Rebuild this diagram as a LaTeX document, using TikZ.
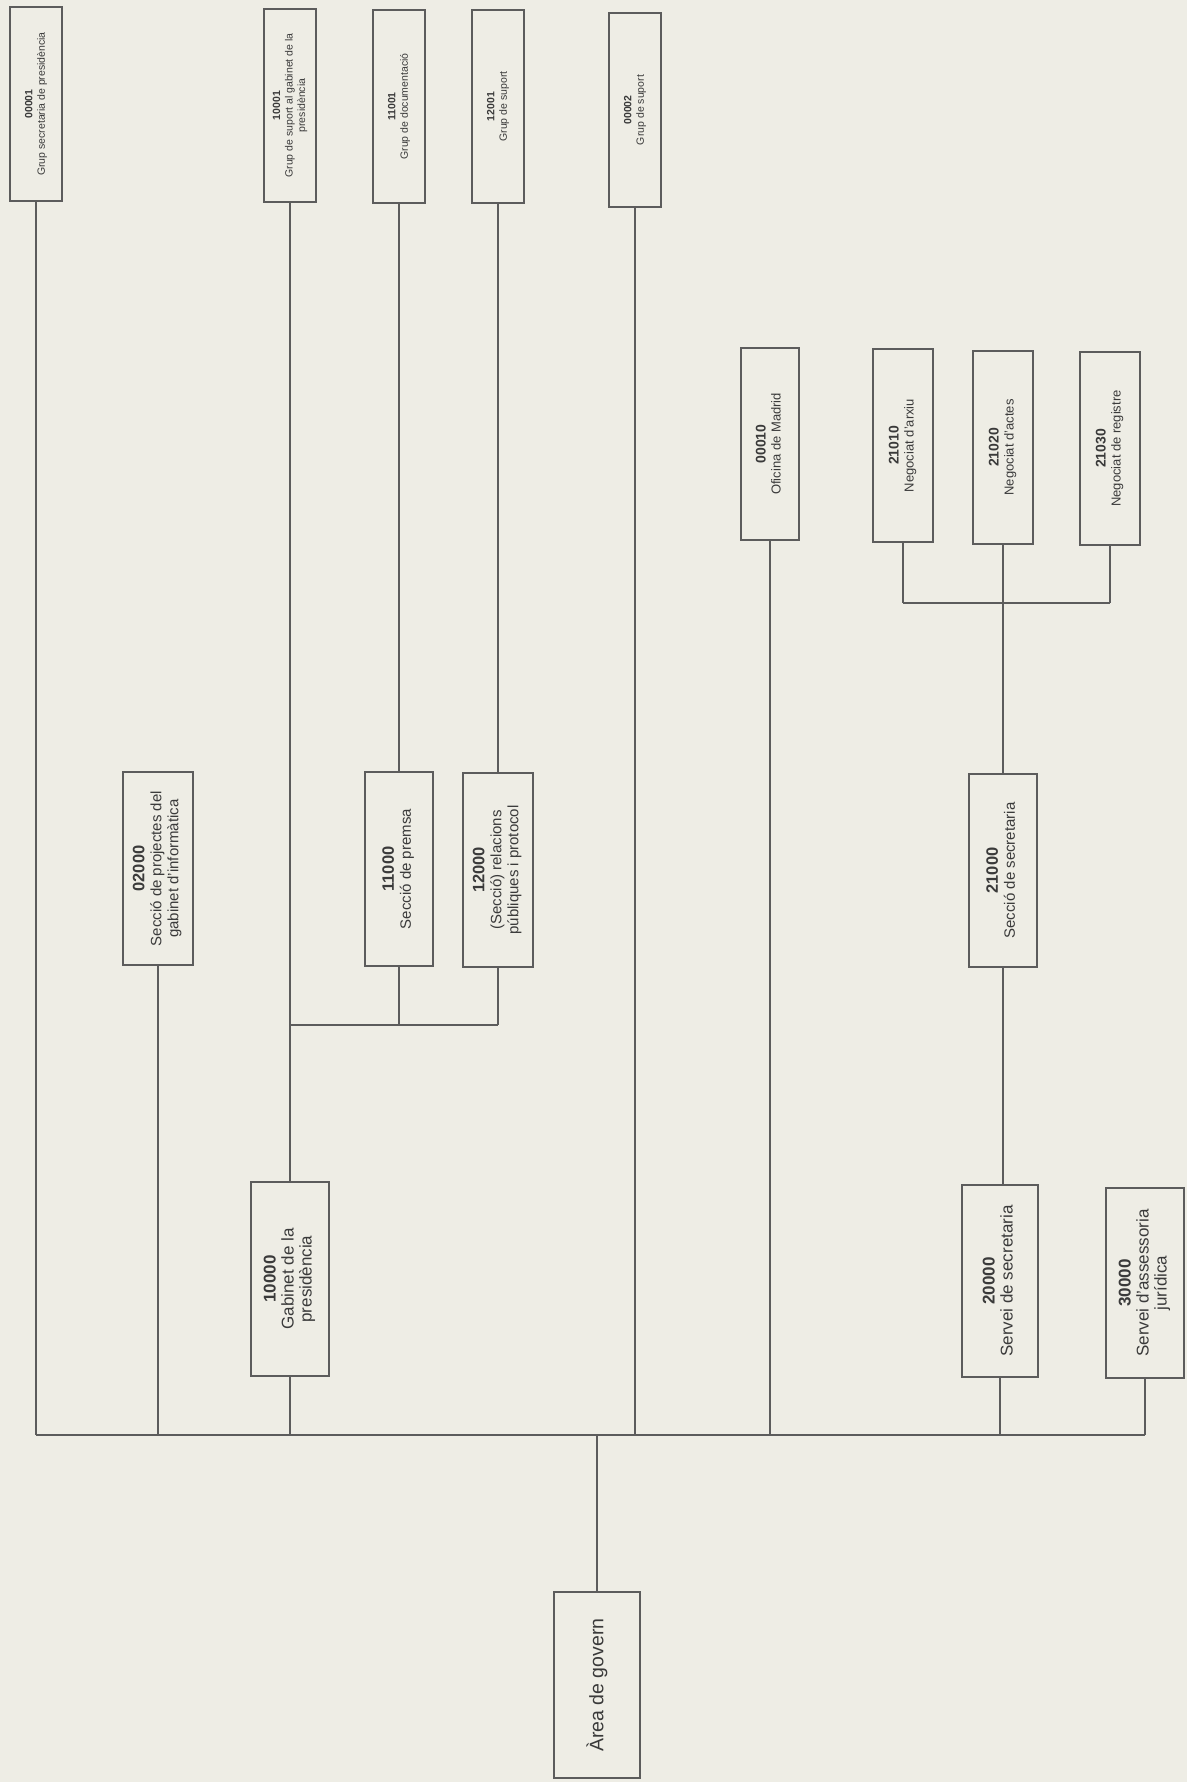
\documentclass[tikz,border=0pt]{standalone}
\usepackage{fontspec}
\setmainfont{Liberation Sans}
\usepackage{graphicx}
\definecolor{bgc}{HTML}{EEEDE5}
\definecolor{linec}{HTML}{5C5C5C}
\definecolor{txtc}{HTML}{3A3A3A}
\newcommand{\orgtext}[5]{\rotatebox{90}{\fontsize{#1}{#2}\selectfont\begin{tabular}{@{}c@{}}{\fontsize{#3}{#2}\selectfont\bfseries #4}\\#5\end{tabular}}}
\tikzset{
  orgbox/.style={draw=linec, line width=1.8pt, inner sep=0pt, text=txtc, anchor=center},
  conn/.style={draw=linec, line width=1.8pt},
  sz/.style n args={2}{minimum width=#1pt, minimum height=#2pt}
}
\begin{document}
\begin{tikzpicture}[x=1pt,y=-1pt]
\fill[bgc] (0,0) rectangle (1187,1782);
\useasboundingbox (0,0) rectangle (1187,1782);
% top row
\node[orgbox, sz={52}{194}] (b00001) at (36,104) {\orgtext{10.5}{12.5}{10.5}{00001}{Grup secretaria de presidència}};
\node[orgbox, sz={52}{193}] (b10001) at (290,105.5) {\orgtext{10.5}{12.5}{10.5}{10001}{Grup de suport al gabinet de la\\presidència}};
\node[orgbox, sz={52}{193}] (b11001) at (399,106.5) {\orgtext{10.5}{12.5}{10.5}{11001}{Grup de documentació}};
\node[orgbox, sz={52}{193}] (b12001) at (498,106.5) {\orgtext{10.5}{12.5}{10.5}{12001}{Grup de suport}};
\node[orgbox, sz={52}{194}] (b00002) at (635,110) {\orgtext{10.5}{12.5}{10.5}{00002}{Grup de suport}};
% second row right
\node[orgbox, sz={58}{192}] (b00010) at (770,444) {\orgtext{13}{15}{14}{00010}{Oficina de Madrid}};
\node[orgbox, sz={60}{193}] (b21010) at (903,445.5) {\orgtext{13}{15}{14}{21010}{Negociat d'arxiu}};
\node[orgbox, sz={60}{193}] (b21020) at (1003,447.5) {\orgtext{13}{15}{14}{21020}{Negociat d'actes}};
\node[orgbox, sz={60}{193}] (b21030) at (1110,448.5) {\orgtext{13}{15}{14}{21030}{Negociat de registre}};
% third row
\node[orgbox, sz={70}{193}] (b02000) at (158,868.5) {\orgtext{15}{17}{16.5}{02000}{Secció de projectes del\\gabinet d'informàtica}};
\node[orgbox, sz={68}{194}] (b11000) at (399,869) {\orgtext{15}{17}{16.5}{11000}{Secció de premsa}};
\node[orgbox, sz={70}{194}] (b12000) at (498,870) {\orgtext{15}{17}{16.5}{12000}{(Secció) relacions\\públiques i protocol}};
\node[orgbox, sz={68}{193}] (b21000) at (1003,870.5) {\orgtext{15}{17}{16.5}{21000}{Secció de secretaria}};
% fourth row
\node[orgbox, sz={78}{194}] (gab) at (290,1279) {\orgtext{17}{18}{17}{10000}{Gabinet de la\\presidència}};
\node[orgbox, sz={76}{192}] (b20000) at (1000,1281) {\orgtext{17}{18}{17}{20000}{Servei de secretaria}};
\node[orgbox, sz={78}{190}] (b30000) at (1145,1283) {\orgtext{17}{18}{17}{30000}{Servei d'assessoria\\jurídica}};
% root
\node[orgbox, sz={86}{186}] (area) at (597,1685) {\rotatebox{90}{\fontsize{19.5}{22}\selectfont Àrea de govern}};
% junction coordinates
\coordinate (bus) at (597,1435);
\coordinate (gj) at (400,1025);
\coordinate (sj) at (1003,603);
% main bus
\draw[conn] (area.north) -- (area.north |- bus);
\draw[conn] (b00001.south |- bus) -- (b30000.south |- bus);
\foreach \n in {b00001,b02000,gab,b00002,b00010,b20000,b30000}
  \draw[conn] (\n.south) -- (\n.south |- bus);
% gabinet group
\draw[conn] (b10001.south) -- (gab.north);
\draw[conn] (b11001.south) -- (b11000.north);
\draw[conn] (b12001.south) -- (b12000.north);
\draw[conn] (b11000.south) -- (b11000.south |- gj);
\draw[conn] (b12000.south) -- (b12000.south |- gj);
\draw[conn] (gab.north |- gj) -- (b12000.south |- gj);
% secretaria group
\draw[conn] (b21010.south) -- (b21010.south |- sj);
\draw[conn] (b21030.south) -- (b21030.south |- sj);
\draw[conn] (b21010.south |- sj) -- (b21030.south |- sj);
\draw[conn] (b21020.south) -- (b21000.north);
\draw[conn] (b21000.south) -- (b21000.south |- b20000.north);
\end{tikzpicture}
\end{document}
